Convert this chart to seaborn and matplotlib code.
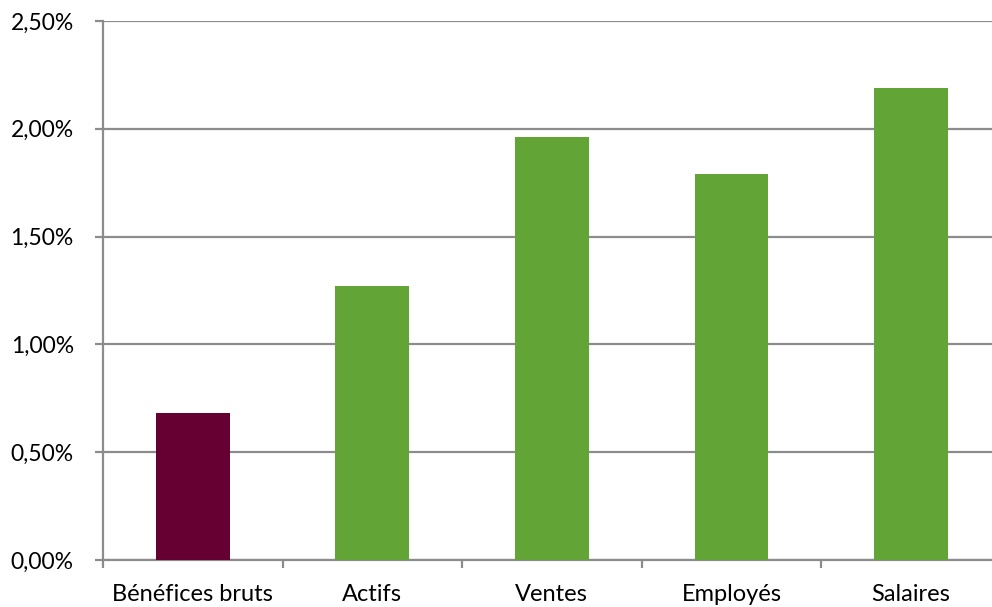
import pandas as pd
import matplotlib.pyplot as plt
import seaborn as sns
from matplotlib.ticker import FuncFormatter, MultipleLocator

# values (percent)
categories = ['Bénéfices bruts', 'Actifs', 'Ventes', 'Employés', 'Salaires']
values = [0.68, 1.27, 1.96, 1.79, 2.19]
bar_colors = ['#660033', '#62A536', '#62A536', '#62A536', '#62A536']
y_ticks = [0.0, 0.5, 1.0, 1.5, 2.0, 2.5]

GRID = '#8c8c8c'


def main():
    sns.set_style('white')
    plt.rcParams['font.family'] = ['Lato', 'DejaVu Sans']

    data = pd.DataFrame({'cat': categories, 'val': values})

    fig = plt.figure(figsize=(9.92, 6.07), dpi=100)
    ax = fig.add_axes([0.1038, 0.0774, 0.905, 0.888])

    sns.barplot(data=data, x='cat', y='val', hue='cat', palette=bar_colors,
                width=0.41, legend=False, saturation=1, linewidth=0,
                ax=ax, zorder=3)

    ax.set_ylim(0, 2.5)
    ax.set_xlim(-0.5, len(categories) - 0.5)
    ax.set_yticks(y_ticks)
    ax.yaxis.set_major_formatter(FuncFormatter(lambda v, _: f'{v:.2f}%'.replace('.', ',')))
    ax.yaxis.grid(True, color=GRID, linewidth=1.6)
    ax.set_axisbelow(True)

    # category boundary ticks on x
    ax.set_xticks(range(len(categories)))
    ax.set_xticklabels(categories)
    ax.xaxis.set_minor_locator(MultipleLocator(1, offset=0.5))
    ax.tick_params(axis='x', which='major', length=0, pad=17, labelsize=17, colors='#000000')
    ax.tick_params(axis='x', which='minor', length=6, width=1.6, color=GRID, direction='out', bottom=True)
    ax.tick_params(axis='y', length=6, width=1.6, color=GRID, direction='out', left=True,
                   pad=15, labelsize=16.5, labelcolor='#000000')

    for side in ['top', 'right']:
        ax.spines[side].set_visible(False)
    ax.spines['left'].set_color(GRID)
    ax.spines['left'].set_linewidth(1.6)
    ax.spines['bottom'].set_color(GRID)
    ax.spines['bottom'].set_linewidth(1.6)

    ax.set_xlabel('')
    ax.set_ylabel('')

    fig.savefig('out.png', dpi=100)
    plt.close(fig)


if __name__ == '__main__':
    main()
